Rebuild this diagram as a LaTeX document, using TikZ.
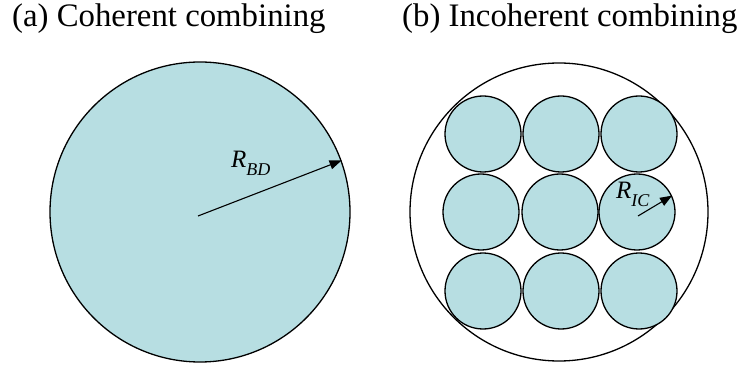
\documentclass[tikz,border=0pt]{standalone}
\usepackage{fontspec}
\setmainfont{Liberation Serif}
\usetikzlibrary{arrows.meta}
\definecolor{beamcyan}{RGB}{183,222,226}
\tikzset{
  beam/.style={circle, draw=black, line width=1.3pt, fill=beamcyan, inner sep=0pt},
  smallbeam/.style={beam, minimum size=76pt},
  radarrow/.style={line width=1.1pt, -{Triangle[length=12pt,width=9pt]}},
  title/.style={anchor=base west, inner sep=0pt, font=\fontsize{32.8}{36}\selectfont},
  rlabel/.style={anchor=base west, inner sep=0pt, font=\fontsize{25}{26}\selectfont\itshape}
}

\begin{document}
\begin{tikzpicture}[x=1pt, y=-1pt]
  \useasboundingbox (0,0) rectangle (739,366);

  %% Titles
  \node[title] (titleA) at (12,27)  {(a) Coherent combining};
  \node[title] (titleB) at (402,27) {(b) Incoherent combining};

  %% (a) one large beam
  \node[beam, minimum size=300pt] (bd) at (200,212) {};
  \coordinate (bdfoot) at (198,216);
  \draw[radarrow] (bdfoot) -- (bd.20);
  \node[rlabel] (bdlabel) at (231,168) {R\raisebox{-0.3em}{\fontsize{18}{18}\selectfont BD}};

  %% (b) outer aperture
  \node[circle, draw=black, line width=1.3pt, minimum size=298pt, inner sep=0pt] (ap) at (559,212) {};

  %% (b) 3x3 beams
  \node[smallbeam] (ic11) at (483,134) {};
  \node[smallbeam] (ic12) at (561,134) {};
  \node[smallbeam] (ic13) at (639,134) {};
  \node[smallbeam] (ic21) at (481,212) {};
  \node[smallbeam] (ic22) at (560,212) {};
  \node[smallbeam] (ic23) at (637,212) {};
  \node[smallbeam] (ic31) at (483,291) {};
  \node[smallbeam] (ic32) at (561,291) {};
  \node[smallbeam] (ic33) at (639,291) {};

  \coordinate (icfoot) at (638,216);
  \draw[radarrow] (icfoot) -- (ic23.25);
  \node[rlabel] (iclabel) at (616,199) {R\raisebox{-0.3em}{\fontsize{18}{18}\selectfont IC}};
\end{tikzpicture}
\end{document}
